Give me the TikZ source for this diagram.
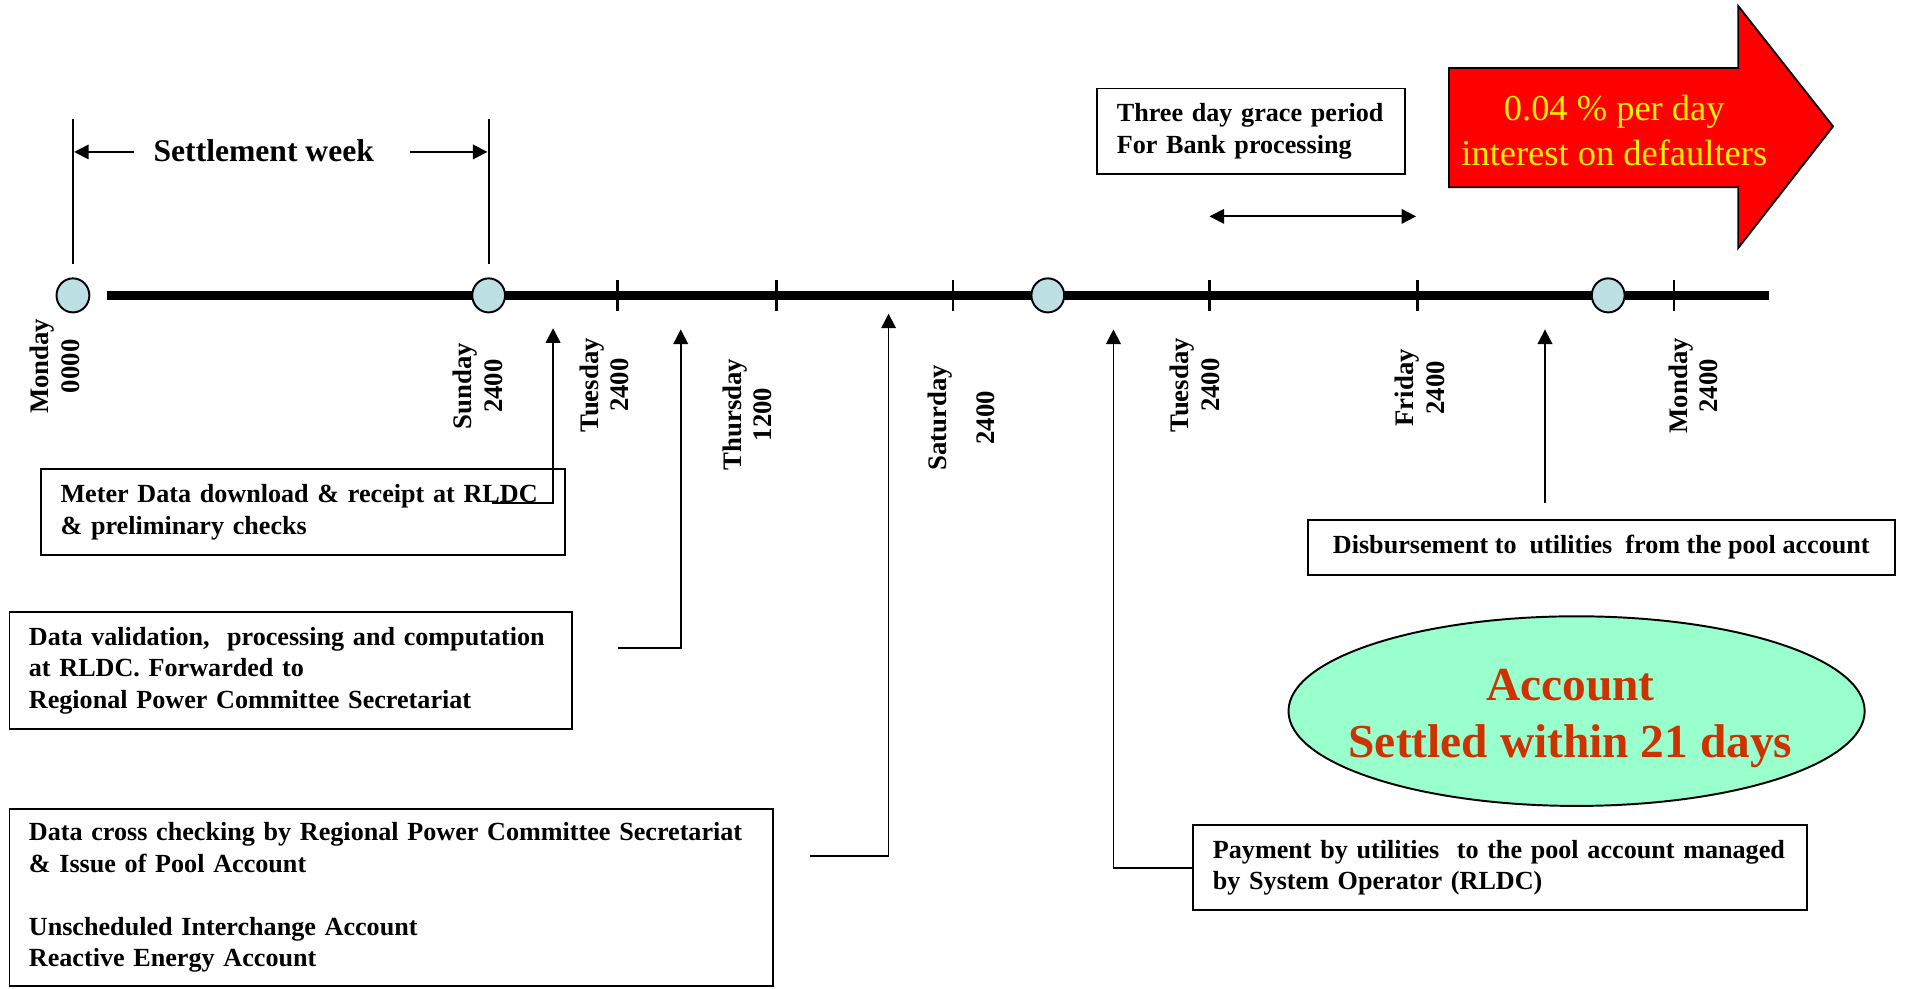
\documentclass[tikz,border=0pt]{standalone}
\usepackage{fontspec}
\setmainfont{Liberation Serif}
\usetikzlibrary{arrows.meta,shapes.geometric}
\definecolor{dotblue}{HTML}{BCE0E4}
\definecolor{mint}{HTML}{99FFCC}
\definecolor{rust}{HTML}{CC3300}
\begin{document}
\begin{tikzpicture}[x=1pt,y=-1pt,
		>={Triangle[length=12pt,width=12pt]},
		dot/.style={draw,ellipse,fill=dotblue,line width=1.6pt,minimum width=27pt,minimum height=28pt,inner sep=0pt},
		day/.style={rotate=90,anchor=east,align=center,inner sep=0pt,font=\fontsize{22}{25}\selectfont\bfseries},
		infobox/.style={draw,line width=1.6pt,anchor=north west,align=left,inner xsep=16pt,inner ysep=0pt,font=\fontsize{21.5}{26}\selectfont\bfseries},
		link/.style={line width=1.5pt}
		]
			\useasboundingbox (0,0) rectangle (1568,813.6);
			
			% settlement week
			\coordinate (wk0a) at (60,98);
			\coordinate (wk0b) at (60,217);
			\coordinate (wk1a) at (402,98);
			\coordinate (wk1b) at (402,217);
			\coordinate (wkl) at (110,125);
			\coordinate (wkle) at (61,125);
			\coordinate (wkr) at (337,125);
			\coordinate (wkre) at (401,125);
			\node	(week) at (217,124) [font=\fontsize{26}{30}\selectfont\bfseries] {Settlement week};
			\draw[link] (wk0a) -- (wk0b);
			\draw[link] (wk1a) -- (wk1b);
			\draw[link] 
			(wkl) edge[->] (wkle) 
			(wkr) edge[->] (wkre)
			;
			
			% time line
			\coordinate (tl0) at (88,243);
			\coordinate (tl1) at (1455,243);
			\draw[line width=7.5pt] (tl0) -- (tl1);
			\draw[line width=2.2pt] (508,230) -- (508,256);
			\draw[line width=2.2pt] (639,230) -- (639,256);
			\draw[line width=2.2pt] (784,230) -- (784,256);
			\draw[line width=2.2pt] (995,230) -- (995,256);
			\draw[line width=2.2pt] (1166,230) -- (1166,256);
			\draw[line width=2.2pt] (1377,230) -- (1377,256);
			\node	(d1) at (60,243) [dot] {};
			\node	(d2) at (402,243) [dot] {};
			\node	(d3) at (862,243) [dot] {};
			\node	(d4) at (1323,243) [dot] {};
			
			% days
			\node	(mon) at (45,262) [day] {Monday\\0000};
			\node	(sun) at (393,282) [day] {Sunday\\2400};
			\node	(tue) at (497,278) [day] {Tuesday\\2400};
			\node	(thu) at (615,295) [day] {Thursday\\1200};
			\node	(sat) at (791,300) [day] {Saturday\\[14pt]2400};
			\node	(tue2) at (983,278) [day] {Tuesday\\2400};
			\node	(fri) at (1168,287) [day] {Friday\\2400};
			\node	(mon2) at (1393,278) [day] {Monday\\2400};
			
			% grace period and interest
			\node	(grace) at (902,72) [infobox,text width=221pt,minimum height=70pt] {Three day grace period\\For Bank processing};
			\coordinate (gr0) at (995,178);
			\coordinate (gr1) at (1165,178);
			\draw[link] (gr0) edge[<->] (gr1);
			\draw[fill=red,line width=1.5pt] (1192,56) -- (1430,56) -- (1430,5) -- (1508,104) -- (1430,204) -- (1430,154) -- (1192,154) -- cycle;
			\node	(intr) at (1328,107) [align=center,text=yellow,font=\fontsize{30}{37}\selectfont] {0.04 \% per day\\interest on defaulters};
			
			% boxes below
			\node	(meter) at (33,385) [infobox,text width=399pt,minimum height=71pt] {Meter Data download \& receipt at RLDC\\\& preliminary checks};
			\node	(valid) at (7,503) [infobox,text width=431pt,minimum height=96pt] {Data validation,\ \ processing and computation\\at RLDC. Forwarded to\\Regional Power Committee Secretariat};
			\node	(cross) at (7,665) [infobox,text width=596pt,minimum height=145pt] {Data cross checking by Regional Power Committee Secretariat\\\& Issue of Pool Account\\[26pt]Unscheduled Interchange Account\\Reactive Energy Account};
			\node	(pay) at (981,678) [infobox,text width=473pt,minimum height=70pt] {Payment by utilities\ \ to the pool account managed\\by System Operator (RLDC)};
			\node	(disb) at (1075,427) [infobox,inner xsep=0pt,minimum width=483pt,minimum height=45pt] {Disbursement to\ \ utilities\ \ from the pool account};
			\node	(done) at (1297,585) [draw,ellipse,fill=mint,line width=1.6pt,minimum width=474pt,minimum height=156pt,inner sep=0pt] {};
			\node	(donetxt) at (1292,591) [align=center,text=rust,font=\fontsize{39}{47}\selectfont\bfseries] {Account\\Settled within 21 days};
			
			% connectors
			\coordinate (m0) at (405,414);
			\coordinate (m1) at (455,270);
			\coordinate (v0) at (508,533);
			\coordinate (v1) at (560,271);
			\coordinate (c0) at (666,704);
			\coordinate (c1) at (731,258);
			\coordinate (p1) at (916,271);
			\coordinate (b0) at (1271,414);
			\coordinate (b1) at (1271,271);
			\draw[link,->] (m0) -| (m1);
			\draw[link,->] (v0) -| (v1);
			\draw[link,->] (c0) -| (c1);
			\draw[link,->] (pay.west) -| (p1);
			\draw[link,->] (b0) -- (b1);
		\end{tikzpicture}
\end{document}
